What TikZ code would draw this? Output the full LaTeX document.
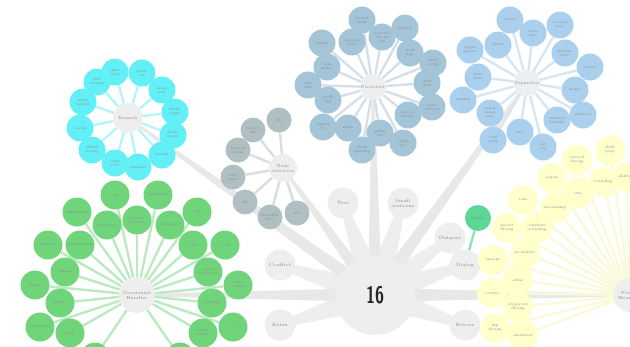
\documentclass[tikz,border=0pt]{standalone}
\usepackage{graphicx}
\usetikzlibrary{calc}
\pgfdeclarelayer{back}
\pgfdeclarelayer{spokes}
\pgfsetlayers{back,spokes,main}
\definecolor{hubfill}{RGB}{238,238,238}
\definecolor{hubline}{RGB}{232,232,232}
\definecolor{labelgrey}{RGB}{135,135,135}
\definecolor{branchcyan}{RGB}{98,240,246}
\definecolor{branchline}{RGB}{178,246,249}
\definecolor{presolblue}{RGB}{164,196,216}
\definecolor{presolline}{RGB}{212,224,232}
\definecolor{sepablue}{RGB}{170,208,238}
\definecolor{sepaline}{RGB}{214,230,242}
\definecolor{nodeselgrey}{RGB}{176,192,194}
\definecolor{nodeselline}{RGB}{214,222,223}
\definecolor{conshdlrgreen}{RGB}{112,212,122}
\definecolor{conshdlrline}{RGB}{188,234,192}
\definecolor{heuryellow}{RGB}{255,255,204}
\definecolor{heurline}{RGB}{250,250,218}
\definecolor{dialoggreen}{RGB}{94,214,150}
% tapered spoke from #1 to #2, half widths #3 and #4
\newcommand{\petal}[5]{\fill[#5] ($(#1)!#3!90:(#2)$) -- ($(#2)!#4!-90:(#1)$) -- ($(#2)!#4!90:(#1)$) -- ($(#1)!#3!-90:(#2)$) -- cycle;}
\tikzset{
	leaf/.style={circle,inner sep=0pt,minimum size=27pt,text=labelgrey,align=center,font=\fontsize{3.6}{4}\selectfont},
	centre/.style={circle,inner sep=0pt,minimum size=28pt,fill=hubfill,text=labelgrey,align=center,font=\fontsize{4.4}{5}\selectfont},
	hubleaf/.style={circle,inner sep=0pt,minimum size=31pt,fill=hubfill,text=labelgrey,align=center,font=\fontsize{4.6}{5.2}\selectfont},
	spoke/.style={line width=2.4pt}
}
\begin{document}
\begin{tikzpicture}[x=1pt,y=-1pt]
			\useasboundingbox (0,0) rectangle (630,346);
			%hub
			\node[circle,inner sep=0pt,minimum size=80pt,fill=hubfill,text=black!85,font=\sffamily\bfseries\fontsize{24}{24}\selectfont] (hub) at (375,295) {\scalebox{0.68}[1]{16}};
			\node[hubleaf] (tree) at (343,203) {Tree};
			\node[hubleaf] (smallcartoons) at (403,203) {Small\\cartoons};
			\node[hubleaf] (conflict) at (280,265) {Conflict};
			\node[hubleaf] (relax) at (280,325) {Relax};
			\node[hubleaf] (outpost) at (450,238) {Outpost};
			\node[hubleaf] (dialog) at (465,265) {Dialog};
			\node[hubleaf] (rescue) at (465,325) {Rescue};
			\node[leaf,minimum size=26pt,fill=dialoggreen] (default) at (478,218) {default};
			\begin{pgfonlayer}{spokes}
				\draw[spoke,dialoggreen!70] (dialog) -- (default);
			\end{pgfonlayer}
			
			%branch
			\begin{scope}[shift={(128,118)}]
				\node[centre,minimum size=30pt] (branch) at (0,0) {Branch};
				\node[leaf,fill=branchcyan] (fullstrong) at (-31,-36) {full\\strong};
				\node[leaf,fill=branchcyan] (inference) at (-13,-46) {infer\\ence};
				\node[leaf,fill=branchcyan] (leastinf) at (14,-45) {least\\inf};
				\node[leaf,fill=branchcyan] (mostinf) at (34,-28) {most\\inf};
				\node[leaf,fill=branchcyan] (multaggr) at (47,-6) {multi\\aggr};
				\node[leaf,fill=branchcyan] (nodereopt) at (45,17) {node\\reopt};
				\node[leaf,fill=branchcyan] (pscost) at (34,37) {pscost};
				\node[leaf,fill=branchcyan] (random) at (10,49) {random};
				\node[leaf,fill=branchcyan] (relpscost) at (-13,45) {relps\\cost};
				\node[leaf,fill=branchcyan] (allfullstrong) at (-36,32) {allfull\\strong};
				\node[leaf,fill=branchcyan] (cloud) at (-48,10) {cloud};
				\node[leaf,fill=branchcyan] (distribution) at (-45,-16) {distri\\bution};
			\end{scope}
			
			%node selection
			\begin{scope}[shift={(283,168)}]
				\node[centre] (nodesel) at (0,0) {Node\\selection};
				\node[leaf,minimum size=25pt,fill=nodeselgrey] (bfs) at (-4,-48) {bfs};
				\node[leaf,minimum size=25pt,fill=nodeselgrey] (restartdfs) at (-30,-38) {restart\\dfs};
				\node[leaf,minimum size=25pt,fill=nodeselgrey] (hybridestim) at (-45,-18) {hybrid\\estim};
				\node[leaf,minimum size=25pt,fill=nodeselgrey] (estimate) at (-50,9) {esti\\mate};
				\node[leaf,minimum size=25pt,fill=nodeselgrey] (dfs) at (-38,34) {dfs};
				\node[leaf,minimum size=25pt,fill=nodeselgrey] (breadthfirst) at (-13,49) {breadth\\first};
				\node[leaf,minimum size=25pt,fill=nodeselgrey] (uct) at (14,45) {uct};
			\end{scope}
			
			%presolver
			\begin{scope}[shift={(373,87)}]
				\node[centre,minimum size=26pt] (presolver) at (0,0) {Presolver};
				\node[leaf,fill=presolblue] (boundshift) at (-11,-67) {bound\\shift};
				\node[leaf,fill=presolblue] (convertinttobin) at (9,-50) {convert\\int to\\bin};
				\node[leaf,fill=presolblue] (domcol) at (32,-59) {domcol};
				\node[leaf,fill=presolblue] (tworowbnd) at (-21,-45) {tworow\\bnd};
				\node[leaf,fill=presolblue] (trivial) at (-51,-44) {trivial};
				\node[leaf,fill=presolblue] (symmetry) at (-46,-20) {sym\\metry};
				\node[leaf,fill=presolblue] (redvub) at (-65,-2) {red\\vub};
				\node[leaf,fill=presolblue] (stuffing) at (-45,13) {stuff\\ing};
				\node[leaf,fill=presolblue] (sparsify) at (-50,40) {sparsi\\fy};
				\node[leaf,fill=presolblue] (milp) at (-25,41) {milp};
				\node[leaf,fill=presolblue] (dualsparsify) at (-11,63) {dual\\sparsify};
				\node[leaf,fill=presolblue] (qpkktref) at (7,46) {qpkkt\\ref};
				\node[leaf,fill=presolblue] (implics) at (30,56) {impl\\ics};
				\node[leaf,fill=presolblue] (inttobinary) at (35,28) {int to\\binary};
				\node[leaf,fill=presolblue] (gateextract) at (59,20) {gate\\extract};
				\node[leaf,fill=presolblue] (dualinfer) at (54,-4) {dual\\infer};
				\node[leaf,fill=presolblue] (dualcomp) at (60,-24) {dual\\comp};
				\node[leaf,fill=presolblue] (dualagg) at (37,-34) {dual\\agg};
			\end{scope}
			
			%separator
			\begin{scope}[shift={(527,83)}]
				\node[centre,minimum size=26pt] (separator) at (0,0) {Separator};
				\node[leaf,fill=sepablue] (clique) at (-17,-63) {clique};
				\node[leaf,fill=sepablue] (closecuts) at (6,-50) {close\\cuts};
				\node[leaf,fill=sepablue] (convexproj) at (33,-58) {convex\\proj};
				\node[leaf,fill=sepablue] (cgmip) at (-29,-38) {cgmip};
				\node[leaf,fill=sepablue] (aggregation) at (-57,-33) {aggre\\gation};
				\node[leaf,fill=sepablue] (disjunctive) at (38,-30) {disjunc\\tive};
				\node[leaf,fill=sepablue] (eccuts) at (63,-16) {eccuts};
				\node[leaf,fill=sepablue] (zerohalf) at (-49,-6) {zero\\half};
				\node[leaf,fill=sepablue] (mixing) at (-64,17) {mixing};
				\node[leaf,fill=sepablue] (rapidlearning) at (-37,30) {rapid\\learn\\ing};
				\node[leaf,fill=sepablue] (gauge) at (48,7) {gauge};
				\node[leaf,fill=sepablue] (gomory) at (56,32) {gomory};
				\node[leaf,fill=sepablue] (impliedbounds) at (30,37) {implied\\bounds};
				\node[leaf,fill=sepablue] (mcf) at (-7,49) {mcf};
				\node[leaf,fill=sepablue] (oddcycle) at (-34,57) {odd\\cycle};
				\node[leaf,fill=sepablue] (intobj) at (16,64) {int\\obj};
			\end{scope}
			
			%constraint handler
			\begin{scope}[shift={(137,295)}]
				\node[centre,minimum size=36pt] (conshdlr) at (0,0) {Constraint\\Handler};
				\node[leaf,minimum size=29pt,fill=conshdlrgreen] (nl) at (-22,-100) {nl};
				\node[leaf,minimum size=29pt,fill=conshdlrgreen] (knapsack) at (21,-100) {knapsack};
				\node[leaf,minimum size=29pt,fill=conshdlrgreen] (cumulative) at (-60,-83) {cumulative};
				\node[leaf,minimum size=29pt,fill=conshdlrgreen] (xor) at (60,-83) {xor};
				\node[leaf,minimum size=29pt,fill=conshdlrgreen] (indicator) at (-30,-70) {indicator};
				\node[leaf,minimum size=29pt,fill=conshdlrgreen] (pseudoboolean) at (0,-75) {pseudo\\boolean};
				\node[leaf,minimum size=29pt,fill=conshdlrgreen] (integral) at (33,-70) {integral};
				\node[leaf,minimum size=29pt,fill=conshdlrgreen] (logicor) at (-89,-50) {logicor};
				\node[leaf,minimum size=29pt,fill=conshdlrgreen] (conjunction) at (-57,-50) {conjunction};
				\node[leaf,minimum size=29pt,fill=conshdlrgreen] (sosone) at (56,-50) {sos1};
				\node[leaf,minimum size=29pt,fill=conshdlrgreen] (sostwo) at (88,-50) {sos2};
				\node[leaf,minimum size=29pt,fill=conshdlrgreen] (linking) at (-72,-23) {linking};
				\node[leaf,minimum size=29pt,fill=conshdlrgreen] (superindicator) at (71,-23) {super\\indicator};
				\node[leaf,minimum size=29pt,fill=conshdlrgreen] (linear) at (-102,-10) {linear};
				\node[leaf,minimum size=29pt,fill=conshdlrgreen] (varbound) at (101,-10) {var\\bound};
				\node[leaf,minimum size=29pt,fill=conshdlrgreen] (setppc) at (-77,8) {setppc};
				\node[leaf,minimum size=29pt,fill=conshdlrgreen] (orbitope) at (75,8) {orbitope};
				\node[leaf,minimum size=29pt,fill=conshdlrgreen] (bounddisj) at (-97,32) {bounddisj};
				\node[leaf,minimum size=29pt,fill=conshdlrgreen] (and) at (-67,38) {and};
				\node[leaf,minimum size=29pt,fill=conshdlrgreen] (cardinality) at (66,38) {cardi\\nality};
				\node[leaf,minimum size=29pt,fill=conshdlrgreen] (or) at (96,32) {or};
				\node[leaf,minimum size=29pt,fill=conshdlrgreen] (lowleft) at (-42,62) {};
				\node[leaf,minimum size=29pt,fill=conshdlrgreen] (lowright) at (43,62) {};
			\end{scope}
			
			%primal heuristic
			\begin{scope}[shift={(630,295)}]
				\node[centre,minimum size=34pt] (heuristic) at (0,0) {Primal\\Heuristic};
				\node[leaf,minimum size=30pt,fill=heuryellow] (shiftandprop) at (-20,-145) {shift\\prop};
				\node[leaf,minimum size=30pt,fill=heuryellow] (rootsoldiving) at (-53,-135) {rootsol\\diving};
				\node[leaf,minimum size=30pt,fill=heuryellow] (repair) at (-78,-117) {repair};
				\node[leaf,minimum size=30pt,fill=heuryellow] (shifting) at (-3,-118) {shifting};
				\node[leaf,minimum size=30pt,fill=heuryellow] (rounding) at (-27,-113) {rounding};
				\node[leaf,minimum size=30pt,fill=heuryellow] (rins) at (-52,-102) {rins};
				\node[leaf,minimum size=30pt,fill=heuryellow] (rens) at (-107,-95) {rens};
				\node[leaf,minimum size=30pt,fill=heuryellow] (zirounding) at (-75,-87) {zirounding};
				\node[leaf,minimum size=30pt,fill=heuryellow] (pscostdiving) at (-123,-67) {pscost\\diving};
				\node[leaf,minimum size=30pt,fill=heuryellow] (randrounding) at (-93,-67) {random\\rounding};
				\node[leaf,minimum size=30pt,fill=heuryellow] (oneopt) at (-137,-35) {oneopt};
				\node[leaf,minimum size=30pt,fill=heuryellow] (proximity) at (-105,-42) {proximity};
				\node[leaf,minimum size=30pt,fill=heuryellow] (octane) at (-138,-2) {octane};
				\node[leaf,minimum size=30pt,fill=heuryellow] (ofins) at (-112,-15) {ofins};
				\node[leaf,minimum size=30pt,fill=heuryellow] (nlpdiving) at (-135,33) {nlp\\diving};
				\node[leaf,minimum size=30pt,fill=heuryellow] (objpscostdiving) at (-112,12) {objpscost\\diving};
				\node[leaf,minimum size=30pt,fill=heuryellow] (mutation) at (-107,40) {mutation};
			\end{scope}
			
			%spokes of the clusters
			\begin{pgfonlayer}{spokes}
				\foreach \n in {fullstrong,inference,leastinf,mostinf,multaggr,nodereopt,pscost,random,relpscost,allfullstrong,cloud,distribution}
					\draw[spoke,branchline] (branch) -- (\n);
				\foreach \n in {bfs,restartdfs,hybridestim,estimate,dfs,breadthfirst,uct}
					\draw[spoke,nodeselline] (nodesel) -- (\n);
				\foreach \n in {boundshift,convertinttobin,domcol,tworowbnd,trivial,symmetry,redvub,stuffing,sparsify,milp,dualsparsify,qpkktref,implics,inttobinary,gateextract,dualinfer,dualcomp,dualagg}
					\draw[spoke,presolline] (presolver) -- (\n);
				\foreach \n in {clique,closecuts,convexproj,cgmip,aggregation,disjunctive,eccuts,zerohalf,mixing,rapidlearning,gauge,gomory,impliedbounds,mcf,oddcycle,intobj}
					\draw[spoke,sepaline] (separator) -- (\n);
				\foreach \n in {nl,knapsack,cumulative,xor,indicator,pseudoboolean,integral,logicor,conjunction,sosone,sostwo,linking,superindicator,linear,varbound,setppc,orbitope,bounddisj,and,cardinality,or,lowleft,lowright}
					\draw[spoke,conshdlrline] (conshdlr) -- (\n);
				\foreach \n in {shiftandprop,rootsoldiving,repair,shifting,rounding,rins,rens,zirounding,pscostdiving,randrounding,oneopt,proximity,octane,ofins,nlpdiving,objpscostdiving,mutation}
					\draw[spoke,heurline] (heuristic) -- (\n);
			\end{pgfonlayer}
			
			%spokes of the hub
			\begin{pgfonlayer}{back}
				\petal{hub.center}{tree.center}{14pt}{3pt}{hubfill}
				\petal{hub.center}{smallcartoons.center}{14pt}{3pt}{hubfill}
				\petal{hub.center}{conflict.center}{14pt}{3pt}{hubfill}
				\petal{hub.center}{relax.center}{14pt}{3pt}{hubfill}
				\petal{hub.center}{outpost.center}{14pt}{3pt}{hubfill}
				\petal{hub.center}{dialog.center}{14pt}{3pt}{hubfill}
				\petal{hub.center}{rescue.center}{14pt}{3pt}{hubfill}
				\petal{hub.center}{branch.center}{7pt}{1.2pt}{hubline}
				\petal{hub.center}{nodesel.center}{7pt}{1.2pt}{hubline}
				\petal{hub.center}{presolver.center}{7pt}{1.2pt}{hubline}
				\petal{hub.center}{separator.center}{7pt}{1.2pt}{hubline}
				\petal{hub.center}{conshdlr.center}{7pt}{1.2pt}{hubline}
				\petal{hub.center}{heuristic.center}{7pt}{1.2pt}{hubline}
			\end{pgfonlayer}
		\end{tikzpicture}
\end{document}
